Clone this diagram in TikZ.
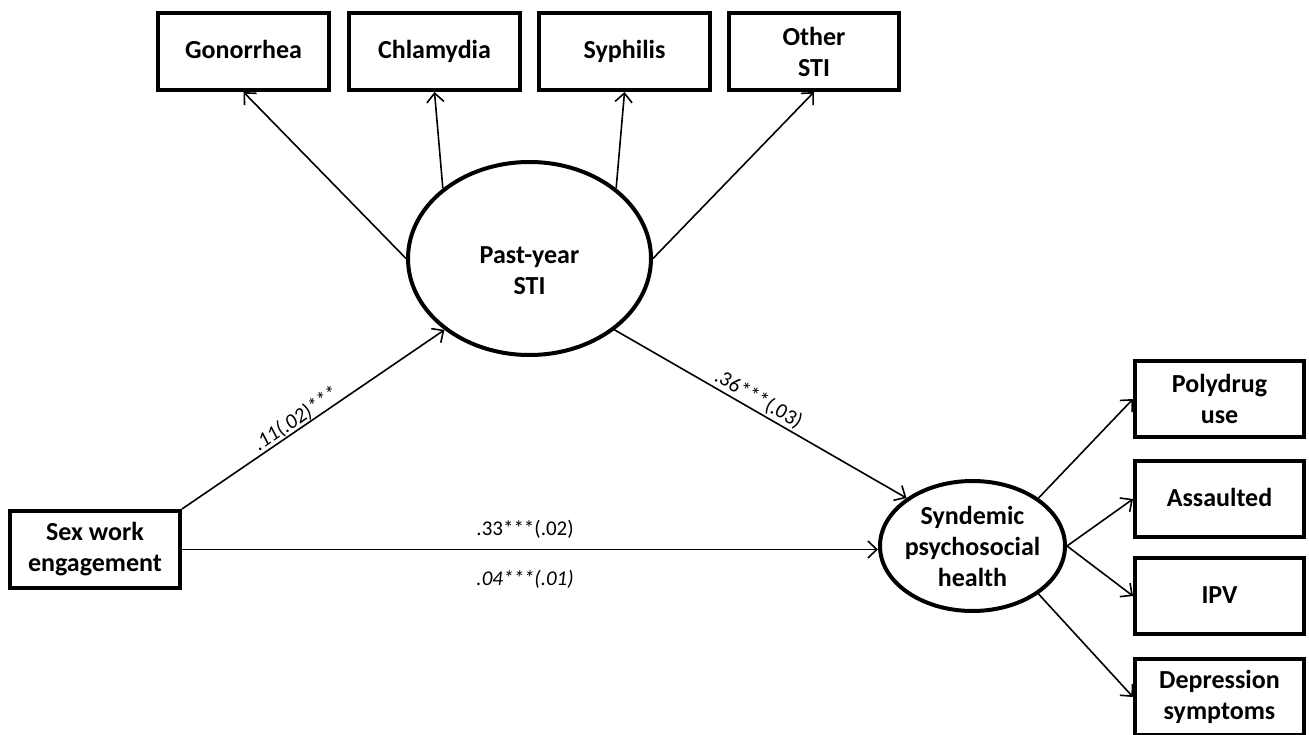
\documentclass[tikz,border=0pt]{standalone}
\usepackage{fontspec}
\setmainfont{Carlito}
\usetikzlibrary{shapes.geometric,arrows.meta}
\newcommand\diagnodefont{\fontsize{26}{31}\selectfont\bfseries}
\newcommand\diagcoeffont{\fontsize{21}{25}\selectfont}
\newcommand\diagitcoeffont{\fontsize{21}{25}\selectfont\itshape}
\begin{document}
\begin{tikzpicture}[x=1pt,y=-1pt,
  obs/.style={draw, line width=4pt, rectangle, minimum width=170pt, minimum height=77pt, inner sep=0pt, align=center, font=\diagnodefont},
  oneline/.style={text height=19pt, text depth=5pt},
  lat/.style={draw, line width=4pt, ellipse, inner sep=0pt},
  latlabel/.style={font=\diagnodefont, align=center},
  conn/.style={line width=1.6pt, -{Straight Barb[length=9pt,width=17pt,line width=1.6pt]}},
  coef/.style={font=\diagcoeffont, inner sep=0pt},
  itcoef/.style={font=\diagitcoeffont, inner sep=0pt}]
\useasboundingbox[fill=white] (0,0) rectangle (1309,735);

% observed indicators
\node[obs, oneline, minimum width=171pt] (gon) at (243.5,51.5) {Gonorrhea};
\node[obs, oneline, minimum width=171pt] (chl) at (434.5,51.5) {Chlamydia};
\node[obs, oneline, minimum width=171pt] (syp) at (624.5,51.5) {Syphilis};
\node[obs] (oth) at (814,51.5) {Other\\STI};
\node[obs] (sex) at (95,549.5) {Sex work\\engagement};
\node[obs, minimum width=169pt, minimum height=76pt] (pol) at (1219.5,399) {Polydrug\\use};
\node[obs, oneline, minimum width=169pt, minimum height=76pt] (ass) at (1219.5,499) {Assaulted};
\node[obs, oneline, minimum width=169pt, minimum height=76pt] (ipv) at (1219.5,596) {IPV};
\node[obs, minimum width=169pt, minimum height=76pt] (dep) at (1219.5,697) {Depression\\symptoms};

% latent variables
\node[lat, minimum width=243pt, minimum height=193pt,
  label={[latlabel, yshift=-12pt]center:Past-year\\STI}] (sti) at (529.5,258.5) {};
\node[lat, minimum width=185pt, minimum height=130pt,
  label={[latlabel]center:Syndemic\\psychosocial\\health}] (syn) at (972.5,546) {};

% measurement paths
\draw[conn] (sti.west) -- (gon.south);
\draw[conn] (sti.141) -- (chl.south);
\draw[conn] (sti.39) -- (syp.south);
\draw[conn] (sti.east) -- (oth.south);
\draw[conn] (syn.36) -- (pol.west);
\draw[conn] (syn.east) -- (ass.west);
\draw[conn] (syn.east) -- (ipv.west);
\draw[conn] (syn.-36) -- (dep.west);

% structural paths
\draw[conn] (sex.north east) -- node[itcoef, sloped, above, pos=0.455] (l11) {.11(.02)***} (sti.220);
\draw[conn] (sti.320) -- node[coef, sloped, above=2pt, pos=0.473] (l36) {.36***(.03)} (syn.144);
\draw[conn] (sex.east) --
  node[coef, pos=0.493, yshift=20pt] (l33) {.33***(.02)}
  node[itcoef, pos=0.493, yshift=-30pt] (l04) {.04***(.01)}
  (sex.east -| syn.west);
\end{tikzpicture}
\end{document}
